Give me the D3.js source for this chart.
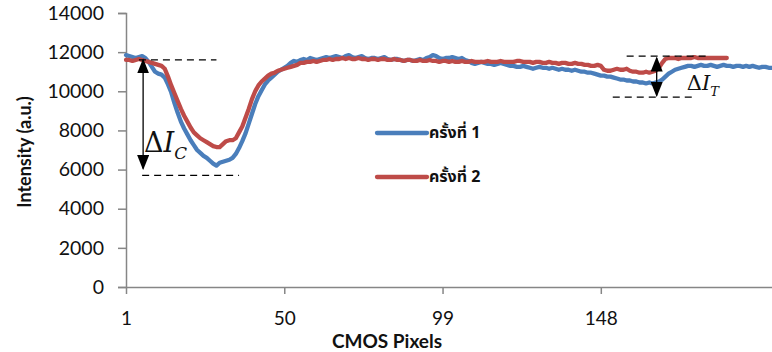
<!DOCTYPE html>
<html>
<head>
<meta charset="utf-8">
<script src="https://cdn.jsdelivr.net/npm/d3@7"></script>
<style>
  body { margin: 0; background: #fff; }
  svg { display: block; }
</style>
</head>
<body>
<svg id="chart" width="772" height="352"></svg>
<script>
// series, one value per CMOS pixel
const run1 = [
  11850, 11800, 11750, 11700, 11750, 11800, 11700, 11500, 11250, 11000,
  10900, 10850, 10700, 10350, 9950, 9400, 8900, 8450, 8100, 7800,
  7500, 7250, 7000, 6850, 6700, 6600, 6450, 6300, 6200, 6350,
  6400, 6450, 6500, 6600, 6800, 7100, 7450, 7850, 8350, 8850,
  9350, 9750, 10050, 10350, 10550, 10700, 10850, 11000, 11100, 11200,
  11300, 11450, 11550, 11500, 11600, 11650, 11600, 11700, 11650, 11600,
  11650, 11700, 11750, 11700, 11750, 11800, 11750, 11700, 11800, 11850,
  11750, 11700, 11750, 11800, 11700, 11650, 11700, 11700, 11650, 11700,
  11750, 11650, 11600, 11650, 11650, 11600, 11550, 11600, 11600, 11550,
  11600, 11650, 11600, 11700, 11750, 11850, 11800, 11700, 11650, 11700,
  11700, 11750, 11700, 11650, 11700, 11600, 11550, 11450, 11400, 11450,
  11500, 11450, 11400, 11400, 11350, 11400, 11450, 11400, 11350, 11300,
  11300, 11250, 11250, 11300, 11250, 11200, 11150, 11200, 11250, 11200,
  11200, 11150, 11200, 11150, 11100, 11150, 11100, 11100, 11050, 11100,
  11050, 11000, 11000, 10950, 10950, 10900, 10850, 10800, 10800, 10750,
  10750, 10700, 10650, 10600, 10600, 10550, 10550, 10500, 10500, 10450,
  10450, 10400, 10450, 10400, 10450, 10500, 10600, 10750, 10900, 11000,
  11100, 11150, 11200, 11250, 11300, 11300, 11250, 11300, 11350, 11300,
  11300, 11350, 11300, 11250, 11300, 11350, 11300, 11300, 11250, 11300,
  11300, 11250, 11300, 11250, 11300, 11250, 11200, 11250, 11250, 11200, 11200
]
const run2 = [
  11600, 11600, 11550, 11600, 11650, 11600, 11550, 11500, 11450, 11400,
  11350, 11300, 11150, 10750, 10300, 9900, 9500, 9100, 8750, 8450,
  8150, 7900, 7750, 7600, 7500, 7400, 7300, 7200, 7150, 7150,
  7300, 7450, 7500, 7500, 7600, 7900, 8200, 8650, 9100, 9600,
  10000, 10300, 10500, 10650, 10800, 10900, 10950, 11050, 11100, 11150,
  11200, 11250, 11300, 11350, 11450, 11450, 11500, 11500, 11550, 11500,
  11550, 11600, 11600, 11650, 11600, 11650, 11650, 11700, 11650, 11700,
  11650, 11650, 11700, 11650, 11650, 11600, 11650, 11650, 11600, 11650,
  11650, 11600, 11600, 11650, 11600, 11600, 11550, 11600, 11600, 11550,
  11550, 11600, 11550, 11550, 11600, 11550, 11550, 11500, 11550, 11550,
  11500, 11550, 11500, 11500, 11550, 11500, 11500, 11550, 11500, 11500,
  11500, 11500, 11550, 11500, 11500, 11500, 11550, 11500, 11500, 11500,
  11500, 11550, 11550, 11500, 11500, 11500, 11450, 11500, 11500, 11450,
  11450, 11500, 11450, 11450, 11400, 11450, 11450, 11400, 11400, 11450,
  11400, 11400, 11350, 11350, 11300, 11300, 11350, 11300, 11100, 11050,
  11050, 11100, 11150, 11100, 11100, 11150, 11050, 11000, 11000, 10950,
  10950, 11000, 10950, 11000, 11050, 11200, 11450, 11650, 11700, 11700,
  11700, 11650, 11700, 11700, 11700, 11700, 11750, 11700, 11700, 11700,
  11700, 11700, 11700, 11700, 11700, 11700, 11700
]
const seriesNames = ['ครั้งที่ 1', 'ครั้งที่ 2']
const seriesColors = ['#4a7ebb', '#be4b48']
const xTicks = [1, 50, 99, 148]
const yTicks = [0, 2000, 4000, 6000, 8000, 10000, 12000, 14000]

const svg = d3.select('#chart')

const x = d3.scaleLinear().domain([1, 201]).range([126, 772])
const y = d3.scaleLinear().domain([0, 14000]).range([287, 13])

const font = "Lato, 'Open Sans', sans-serif"
const thai = "Tahoma, 'Noto Sans Thai', 'Noto Sans Thai UI', 'Loma', 'Garuda', sans-serif"

// y axis
const yAxis = svg.append('g')
    .attr('transform', 'translate(126,0)')
    .call(d3.axisLeft(y).tickValues(yTicks).tickSize(8).tickPadding(14).tickFormat(d3.format('d')))
yAxis.select('.domain').attr('stroke', '#868686').attr('stroke-width', 1.5)
yAxis.selectAll('.tick line').attr('stroke', '#868686').attr('stroke-width', 1.5)
yAxis.selectAll('text')
    .attr('fill', '#111')
    .style('font-family', font)
    .style('font-size', '19.5px')

// x axis
const xAxis = svg.append('g')
    .attr('transform', 'translate(0,287)')
    .call(d3.axisBottom(x).tickValues(xTicks).tickSize(7).tickSizeOuter(0).tickPadding(18))
xAxis.select('.domain').attr('stroke', '#868686').attr('stroke-width', 1.5)
xAxis.selectAll('.tick line').attr('stroke', '#868686').attr('stroke-width', 1.5)
xAxis.selectAll('text')
    .attr('fill', '#111')
    .style('font-family', font)
    .style('font-size', '19px')

// axis titles
svg.append('text')
    .attr('x', 387)
    .attr('y', 348)
    .attr('text-anchor', 'middle')
    .style('font-family', font)
    .style('font-weight', 'bold')
    .style('font-size', '19px')
    .attr('fill', '#111')
    .text('CMOS Pixels')

svg.append('text')
    .attr('transform', 'translate(31,152) rotate(-90)')
    .attr('text-anchor', 'middle')
    .style('font-family', font)
    .style('font-weight', 'bold')
    .style('font-size', '18px')
    .attr('fill', '#111')
    .text('Intensity (a.u.)')

// lines
let line = d3.line()
    .x((d, i) => x(i + 1))
    .y(d => y(d))

const series = [run1, run2]
series.forEach((s, k) => {
    svg.append('path')
        .datum(s)
        .attr('fill', 'none')
        .attr('stroke', seriesColors[k])
        .attr('stroke-width', 4.3)
        .attr('stroke-linejoin', 'round')
        .attr('stroke-linecap', 'round')
        .attr('d', line)
})

// annotations: dashed levels + double arrows
const marks = [
    {top: 11600, topFrom: 5, topTo: 29, bot: 5700, botFrom: 6, botTo: 36, at: 6.3, a0: 11600, a1: 6050,
     label: 'ΔI', sub: 'C', lx: 6.6, lv: 6900, size: 27},
    {top: 11800, topFrom: 156, topTo: 182, bot: 9700, botFrom: 151.7, botTo: 177.7, at: 165.3, a0: 11700, a1: 9780,
     label: 'ΔI', sub: 'T', lx: 174.6, lv: 10050, size: 21}
]

svg.append('defs').append('marker')
    .attr('id', 'head')
    .attr('viewBox', '0 0 10 10')
    .attr('preserveAspectRatio', 'none')
    .attr('refX', 9).attr('refY', 5)
    .attr('markerWidth', 15).attr('markerHeight', 12)
    .attr('markerUnits', 'userSpaceOnUse')
    .attr('orient', 'auto-start-reverse')
    .append('path')
    .attr('d', 'M0,0 L10,5 L0,10 z')
    .attr('fill', '#000')

marks.forEach(m => {
    svg.append('line')
        .attr('x1', x(m.topFrom)).attr('x2', x(m.topTo))
        .attr('y1', y(m.top)).attr('y2', y(m.top))
        .attr('stroke', '#000').attr('stroke-width', 1.2).attr('stroke-dasharray', '7,5')
    svg.append('line')
        .attr('x1', x(m.botFrom)).attr('x2', x(m.botTo))
        .attr('y1', y(m.bot)).attr('y2', y(m.bot))
        .attr('stroke', '#000').attr('stroke-width', 1.2).attr('stroke-dasharray', '7,5')
    svg.append('line')
        .attr('x1', x(m.at)).attr('x2', x(m.at))
        .attr('y1', y(m.a0)).attr('y2', y(m.a1))
        .attr('stroke', '#000').attr('stroke-width', 1.3)
        .attr('marker-start', 'url(#head)')
        .attr('marker-end', 'url(#head)')
    const t = svg.append('text')
        .attr('x', x(m.lx)).attr('y', y(m.lv))
        .style('font-family', "'DejaVu Serif', 'Liberation Serif', serif")
        .style('font-size', m.size + 'px')
        .attr('fill', '#111')
    t.append('tspan').text('Δ')
    t.append('tspan').style('font-style', 'italic').text('I')
    t.append('tspan').attr('dy', m.size * 0.25).style('font-style', 'italic')
        .style('font-size', (m.size * 0.62) + 'px').text(m.sub)
})

// legend
const legend = svg.append('g').attr('transform', 'translate(377,133)')
seriesNames.forEach((n, k) => {
    const g = legend.append('g').attr('transform', `translate(0,${k * 44})`)
    g.append('line')
        .attr('x1', 0).attr('x2', 50)
        .attr('stroke', seriesColors[k]).attr('stroke-width', 4.3).attr('stroke-linecap', 'round')
    g.append('text')
        .attr('x', 52).attr('y', 5)
        .style('font-family', thai)
        .style('font-weight', 'bold')
        .style('font-size', '16px')
        .attr('fill', '#111')
        .text(n)
})
</script>
</body>
</html>
